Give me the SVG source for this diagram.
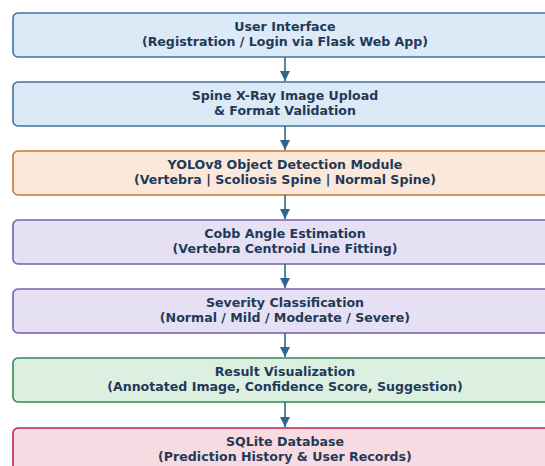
<svg xmlns="http://www.w3.org/2000/svg" width="545" height="466" viewBox="0 0 545 466">
<defs>
<style>
.box{stroke-width:1.6}
.t{font-family:"DejaVu Sans",sans-serif;font-weight:bold;font-size:12.6px;fill:#1f3a56;text-anchor:middle}
.blue{fill:#dce9f7;stroke:#3f74a0}
.orange{fill:#fce8da;stroke:#c8772e}
.purple{fill:#e6e0f5;stroke:#7a5cb0}
.green{fill:#dcf0e2;stroke:#2e8a55}
.pink{fill:#f8dae2;stroke:#b8284d}
.arrow{stroke:#2f6690;stroke-width:1.6;fill:none}
</style>
<marker id="ah" viewBox="0 0 10 10" refX="10" refY="5" markerWidth="10" markerHeight="10" markerUnits="userSpaceOnUse" orient="auto">
<path d="M0,0 L10,5 L0,10 z" fill="#2f6690"/>
</marker>
</defs>
<rect width="545" height="466" fill="#ffffff"/>
<g id="n1"><rect class="box blue" x="13" y="13" width="544" height="44" rx="5"/><text class="t" x="285" y="31">User Interface</text><text class="t" x="285" y="45.5">(Registration / Login via Flask Web App)</text></g>
<g id="n2"><rect class="box blue" x="13" y="82" width="544" height="44" rx="5"/><text class="t" x="285" y="100">Spine X-Ray Image Upload</text><text class="t" x="285" y="114.5">&amp; Format Validation</text></g>
<g id="n3"><rect class="box orange" x="13" y="151" width="544" height="44" rx="5"/><text class="t" x="285" y="169">YOLOv8 Object Detection Module</text><text class="t" x="285" y="183.5">(Vertebra | Scoliosis Spine | Normal Spine)</text></g>
<g id="n4"><rect class="box purple" x="13" y="220" width="544" height="44" rx="5"/><text class="t" x="285" y="238">Cobb Angle Estimation</text><text class="t" x="285" y="252.5">(Vertebra Centroid Line Fitting)</text></g>
<g id="n5"><rect class="box purple" x="13" y="289" width="544" height="44" rx="5"/><text class="t" x="285" y="307">Severity Classification</text><text class="t" x="285" y="321.5">(Normal / Mild / Moderate / Severe)</text></g>
<g id="n6"><rect class="box green" x="13" y="358" width="544" height="44" rx="5"/><text class="t" x="285" y="376">Result Visualization</text><text class="t" x="285" y="390.5">(Annotated Image, Confidence Score, Suggestion)</text></g>
<g id="n7"><rect class="box pink" x="13" y="428" width="544" height="44" rx="5"/><text class="t" x="285" y="446">SQLite Database</text><text class="t" x="285" y="460.5">(Prediction History &amp; User Records)</text></g>
<g id="connectors">
<line class="arrow" x1="285" y1="57" x2="285" y2="81" marker-end="url(#ah)"/>
<line class="arrow" x1="285" y1="126" x2="285" y2="150" marker-end="url(#ah)"/>
<line class="arrow" x1="285" y1="195" x2="285" y2="219" marker-end="url(#ah)"/>
<line class="arrow" x1="285" y1="264" x2="285" y2="288" marker-end="url(#ah)"/>
<line class="arrow" x1="285" y1="333" x2="285" y2="357" marker-end="url(#ah)"/>
<line class="arrow" x1="285" y1="402" x2="285" y2="427" marker-end="url(#ah)"/>
</g>
</svg>
